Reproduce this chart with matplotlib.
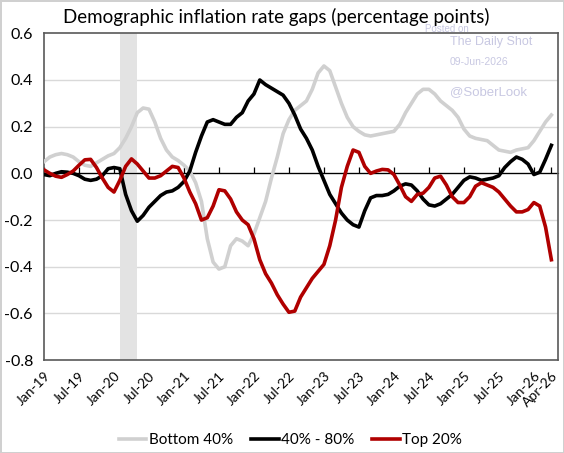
import matplotlib.pyplot as plt

# monthly data, Jan-19 .. Apr-26 (88 months)
months = list(range(88))

bottom40 = [0.05, 0.07, 0.08, 0.085, 0.08, 0.07, 0.05, 0.035, 0.03, 0.045,
            0.06, 0.075, 0.085, 0.11, 0.15, 0.20, 0.26, 0.28, 0.275, 0.22,
            0.15, 0.10, 0.07, 0.055, 0.035, 0.01, -0.04, -0.12, -0.28, -0.38,
            -0.41, -0.40, -0.31, -0.28, -0.29, -0.31, -0.26, -0.19, -0.12, -0.02,
            0.07, 0.17, 0.23, 0.27, 0.29, 0.31, 0.36, 0.43, 0.46, 0.44,
            0.37, 0.30, 0.24, 0.20, 0.18, 0.165, 0.16, 0.165, 0.17, 0.175,
            0.18, 0.21, 0.26, 0.30, 0.34, 0.36, 0.36, 0.34, 0.31, 0.29,
            0.27, 0.24, 0.19, 0.16, 0.15, 0.145, 0.14, 0.12, 0.10, 0.095,
            0.09, 0.10, 0.105, 0.11, 0.14, 0.18, 0.22, 0.25]

mid40_80 = [-0.005, -0.01, 0.0, 0.007, 0.005, 0.0, -0.01, -0.025, -0.03, -0.025,
            -0.01, 0.02, 0.025, 0.02, -0.09, -0.16, -0.205, -0.18, -0.145, -0.12,
            -0.095, -0.08, -0.075, -0.06, -0.035, 0.01, 0.09, 0.16, 0.22, 0.23,
            0.22, 0.21, 0.21, 0.24, 0.26, 0.31, 0.34, 0.40, 0.38, 0.365,
            0.35, 0.335, 0.30, 0.25, 0.19, 0.15, 0.10, 0.03, -0.03, -0.09,
            -0.13, -0.17, -0.20, -0.22, -0.23, -0.16, -0.105, -0.095, -0.095, -0.09,
            -0.075, -0.055, -0.045, -0.05, -0.075, -0.11, -0.135, -0.14, -0.13, -0.11,
            -0.09, -0.06, -0.03, -0.015, -0.02, -0.03, -0.025, -0.02, -0.01, 0.025,
            0.05, 0.07, 0.06, 0.04, -0.005, 0.005, 0.06, 0.12]

top20 = [0.015, 0.0, -0.012, -0.017, -0.005, 0.01, 0.035, 0.058, 0.06, 0.025,
         -0.02, -0.06, -0.08, -0.03, 0.03, 0.062, 0.04, 0.01, -0.02, -0.02,
         -0.01, 0.01, 0.03, 0.025, -0.02, -0.08, -0.13, -0.20, -0.19, -0.14,
         -0.07, -0.075, -0.11, -0.165, -0.20, -0.22, -0.28, -0.37, -0.43, -0.47,
         -0.52, -0.56, -0.595, -0.59, -0.53, -0.49, -0.45, -0.42, -0.39, -0.31,
         -0.20, -0.06, 0.03, 0.10, 0.09, 0.03, 0.0, 0.01, 0.017, 0.015,
         -0.005, -0.05, -0.10, -0.12, -0.09, -0.085, -0.06, -0.02, -0.012, -0.05,
         -0.10, -0.125, -0.125, -0.10, -0.055, -0.04, -0.05, -0.06, -0.08, -0.11,
         -0.14, -0.165, -0.165, -0.155, -0.125, -0.14, -0.23, -0.37]

tick_pos = [0, 6, 12, 18, 24, 30, 36, 42, 48, 54, 60, 66, 72, 78, 84, 87]
tick_labels = ['Jan-19', 'Jul-19', 'Jan-20', 'Jul-20', 'Jan-21', 'Jul-21', 'Jan-22', 'Jul-22',
               'Jan-23', 'Jul-23', 'Jan-24', 'Jul-24', 'Jan-25', 'Jul-25', 'Jan-26', 'Apr-26']

plt.rcParams['font.family'] = ['Lato', 'DejaVu Sans']

fig = plt.figure(figsize=(5.64, 4.53), dpi=100)
fig.patch.set_edgecolor('#d0d0d0')
fig.patch.set_linewidth(2)
ax = fig.add_axes([0.078, 0.205, 0.911, 0.7215])

# recession shading
ax.axvspan(13, 16, color='#e3e3e3', lw=0, zorder=1)

for y in [-0.6, -0.4, -0.2, 0.2, 0.4]:
    ax.axhline(y, color='#d9d9d9', lw=1, zorder=0)
ax.axhline(0, color='black', lw=0.9, zorder=2)

ax.plot(months, bottom40, color='#d0d0d0', lw=2.6, label='Bottom 40%', zorder=3)
ax.plot(months, mid40_80, color='black', lw=2.6, label='40% - 80%', zorder=4)
ax.plot(months, top20, color='#b00000', lw=2.6, label='Top 20%', zorder=5)

ax.set_xlim(0, 88.1)
ax.set_ylim(-0.8, 0.6)
ax.set_yticks([-0.8, -0.6, -0.4, -0.2, 0.0, 0.2, 0.4, 0.6])
ax.set_yticklabels(['-0.8', '-0.6', '-0.4', '-0.2', '0.0', '0.2', '0.4', '0.6'], fontsize=11.5)
ax.set_xticks(tick_pos)
ax.set_xticklabels(tick_labels, rotation=45, ha='right', rotation_mode='anchor', fontsize=10)
ax.tick_params(axis='y', length=0, pad=8)
ax.tick_params(axis='x', length=0, pad=7)
for s in ax.spines.values():
    s.set_color('#595959')
    s.set_linewidth(1.2)

# tick marks on the zero line
sec = ax.secondary_xaxis(0.8 / 1.4)
sec.set_xticks(tick_pos)
sec.set_xticklabels([])
sec.tick_params(length=4, width=0.9, color='black')
sec.spines['bottom'].set_visible(False)

fig.text(0.49, 0.963, 'Demographic inflation rate gaps (percentage points)',
         ha='center', va='center', fontsize=13.5)

wm = '#c8c8e2'
fig.text(0.754, 0.935, 'Posted on', color=wm, fontsize=7, family='Liberation Sans', va='center')
fig.text(0.798, 0.907, 'The Daily Shot', color=wm, fontsize=9, family='Liberation Sans', va='center')
fig.text(0.798, 0.863, '09-Jun-2026', color=wm, fontsize=7.5, family='Liberation Sans', va='center')
fig.text(0.798, 0.797, '@SoberLook', color=wm, fontsize=9.5, family='Liberation Sans', va='center')

fig.legend(loc='center', bbox_to_anchor=(0.515, 0.028), ncol=3, frameon=False,
           fontsize=11, handlelength=1.8, handletextpad=0.15, columnspacing=1.2)

fig.savefig('out.png', dpi=100)
